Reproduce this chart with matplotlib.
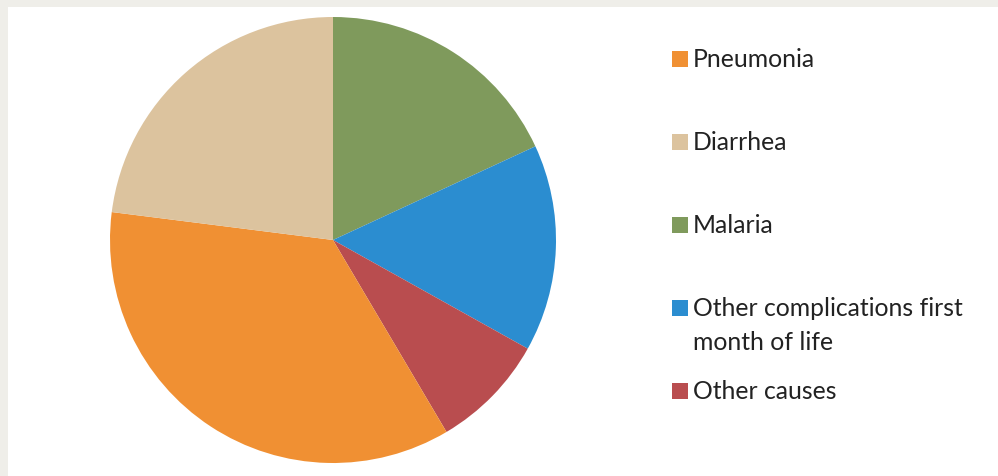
import matplotlib.pyplot as plt
from matplotlib.patches import Rectangle

# slices, clockwise from 12 o'clock
slice_labels = ['Malaria', 'Other complications first\nmonth of life', 'Other causes',
                'Pneumonia', 'Diarrhea']
slice_values = [18.1, 15.0, 8.4, 35.5, 23.0]
slice_colors = ['#7f9a5c', '#2b8dd0', '#b94d4f', '#f09033', '#dcc39e']

# legend order as in the original
legend_order = ['Pneumonia', 'Diarrhea', 'Malaria',
                'Other complications first\nmonth of life', 'Other causes']

W, H = 998, 476
fig = plt.figure(figsize=(W / 100, H / 100), dpi=100, facecolor='#efeee9')
ax = fig.add_axes([0, 0, 1, 1])
ax.set_xlim(0, W)
ax.set_ylim(0, H)
ax.set_aspect('equal')
ax.axis('off')

def py(y):
    # pixel row (from top) -> data y
    return H - y

# white panel
ax.add_patch(Rectangle((8, 0), W - 8, H - 7, facecolor='white', edgecolor='none', zorder=0))

wedges, _ = ax.pie(slice_values, colors=slice_colors, startangle=90, counterclock=False,
                   center=(333, py(240)), radius=223, frame=True,
                   wedgeprops=dict(linewidth=0))
ax.set_xlim(0, W)
ax.set_ylim(0, H)
ax.axis('off')

color_of = dict(zip(slice_labels, slice_colors))
rows = [59, 142, 225, 308, 391]  # centre of first text line
line_gap = 33.5
for lab, yc in zip(legend_order, rows):
    ax.add_patch(Rectangle((672, py(yc + 8)), 16, 16, facecolor=color_of[lab],
                           edgecolor='none', zorder=3))
    for i, line in enumerate(lab.split('\n')):
        ax.text(693, py(yc + 8 + i * line_gap), line, fontsize=17.8, family='Lato',
                color='#222222', va='baseline', ha='left')

fig.savefig('out.png', dpi=100, facecolor=fig.get_facecolor())
